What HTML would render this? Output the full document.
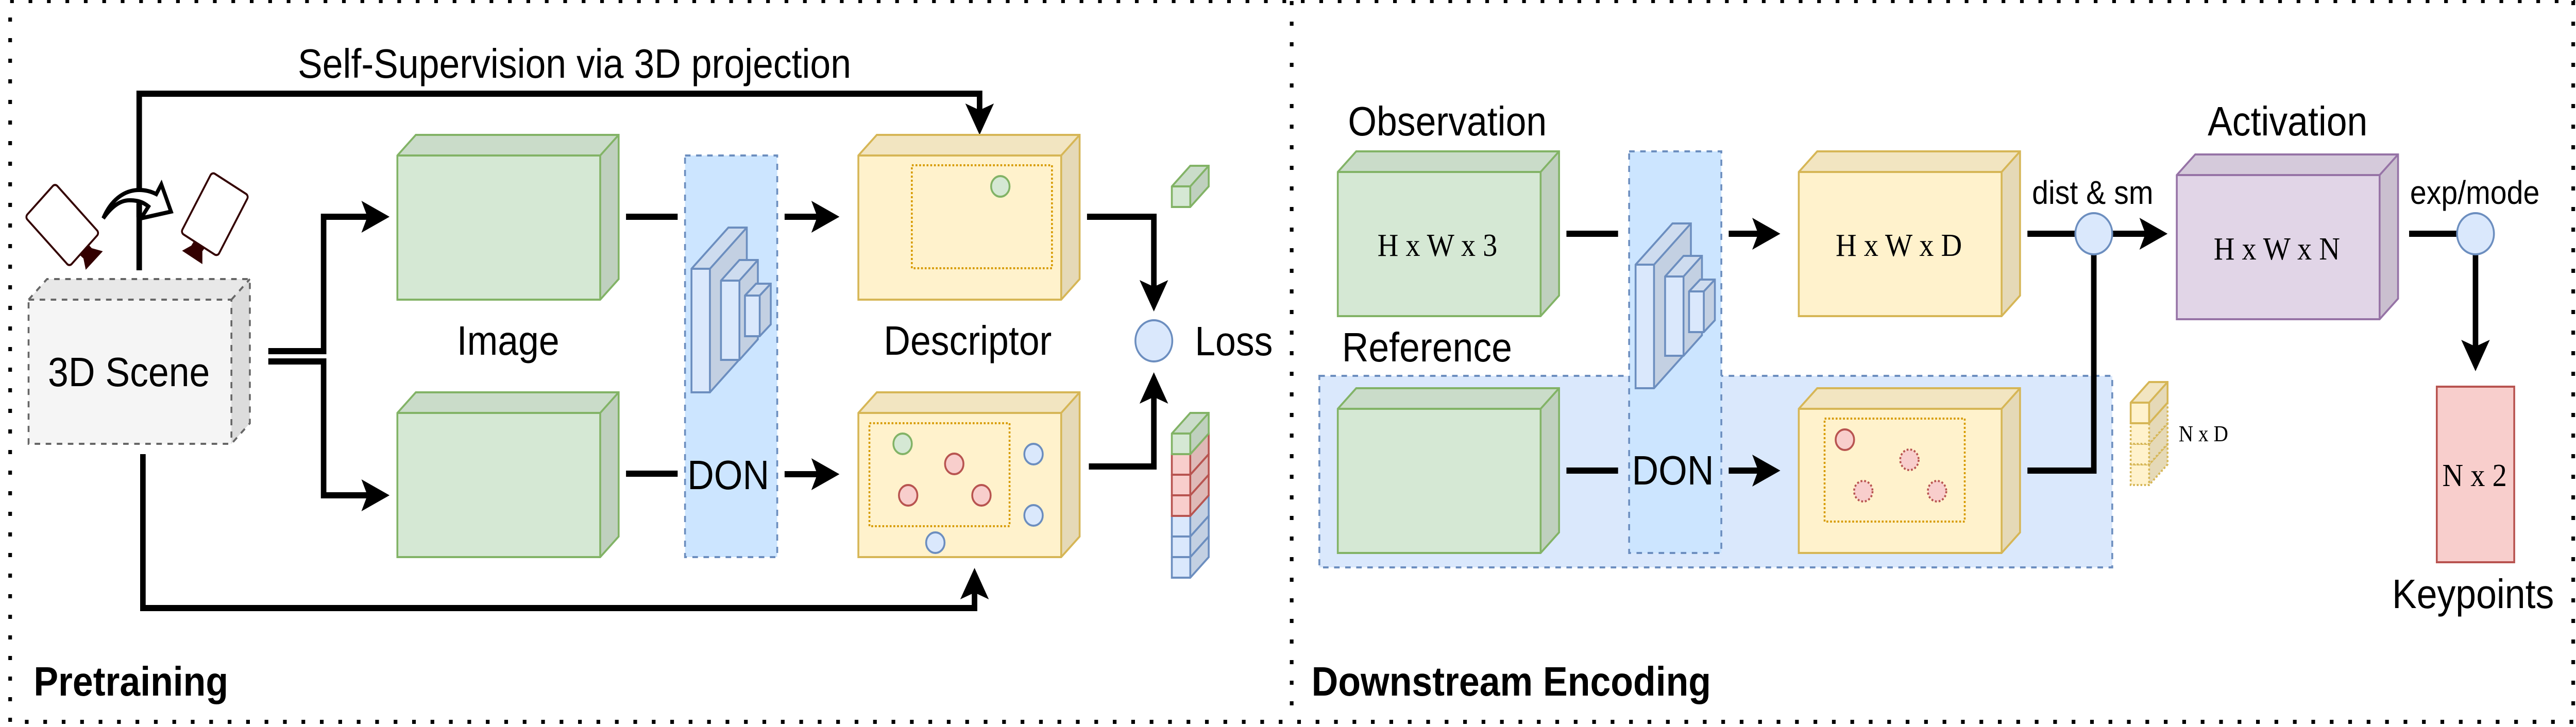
<!DOCTYPE html>
<html>
<head>
<meta charset="utf-8">
<title>Pretraining and Downstream Encoding</title>
<style>
html,body{margin:0;padding:0;background:#fff;width:100%;height:100%;overflow:hidden}
svg{display:block;width:100vw;height:100vh}
text{font-family:"Liberation Sans",Arial,sans-serif;font-size:80px;fill:#000}
.s{font-family:"Liberation Serif","Times New Roman",serif;font-size:63px}
.b{font-weight:bold}
.l{fill:none;stroke:#000;stroke-width:12;stroke-linejoin:miter}
.g{fill:#d5e8d4;stroke:#82b366;stroke-width:4}
.y{fill:#fff2cc;stroke:#d6b656;stroke-width:4}
.r{fill:#f8cecc;stroke:#b85450;stroke-width:4}
.u{fill:#dae8fc;stroke:#6c8ebf;stroke-width:4}
.p{fill:#e1d5e7;stroke:#9673a6;stroke-width:4}
.o{fill:none;stroke:#d79b00;stroke-width:4;stroke-dasharray:4 4}
</style>
</head>
<body>
<svg xmlns="http://www.w3.org/2000/svg" viewBox="0 0 5588 1412" preserveAspectRatio="none">
<defs>
<g id="big">
<path d="M0 40L40 0H480V280L440 320H0Z" stroke="none"/>
<path d="M0 40L40 0H480L440 40Z" fill="#000" fill-opacity=".05" stroke="none"/>
<path d="M440 40L480 0V280L440 320Z" fill="#000" fill-opacity=".1" stroke="none"/>
<path d="M0 40L40 0H480V280L440 320H0ZM0 40H440V320M440 40L480 0" fill="none"/>
</g>
<g id="sm">
<path d="M0 40L40 0H80V40L40 80H0Z" stroke="none"/>
<path d="M0 40L40 0H80L40 40Z" fill="#000" fill-opacity=".05" stroke="none"/>
<path d="M40 40L80 0V40L40 80Z" fill="#000" fill-opacity=".1" stroke="none"/>
<path d="M0 40L40 0H80V40L40 80H0ZM0 40H40V80M40 40L80 0" fill="none"/>
</g>
<g id="cnn">
<path d="M1500 522L1580 442H1620V682L1540 762H1500Z" stroke="none"/>
<path d="M1500 522L1580 442H1620L1540 522Z" fill="#000" fill-opacity=".05" stroke="none"/>
<path d="M1540 522L1620 442V682L1540 762Z" fill="#000" fill-opacity=".1" stroke="none"/>
<path d="M1500 522L1580 442H1620V682L1540 762H1500ZM1500 522H1540V762M1540 522L1620 442" fill="none"/>
<path d="M1564 545L1604 505H1644V659L1604 699H1564Z" stroke="none"/>
<path d="M1564 545L1604 505H1644L1604 545Z" fill="#000" fill-opacity=".05" stroke="none"/>
<path d="M1604 545L1644 505V659L1604 699Z" fill="#000" fill-opacity=".1" stroke="none"/>
<path d="M1564 545L1604 505H1644V659L1604 699H1564ZM1564 545H1604V699M1604 545L1644 505" fill="none"/>
<path d="M1616 574L1640 551H1672V630L1648 653H1616Z" stroke="none"/>
<path d="M1616 574L1640 551H1672L1648 574Z" fill="#000" fill-opacity=".05" stroke="none"/>
<path d="M1648 574L1672 551V630L1648 653Z" fill="#000" fill-opacity=".1" stroke="none"/>
<path d="M1616 574L1640 551H1672V630L1648 653H1616ZM1616 574H1648V653M1648 574L1672 551" fill="none"/>
</g>
</defs>

<!-- dotted frames -->
<g fill="none" stroke="#000" stroke-dasharray="8 32">
<path d="M22 3H5586" stroke-width="6"/>
<path d="M22 34V1402" stroke-width="8"/>
<path d="M54 1402H5582" stroke-width="8"/>
<path d="M2802 2V1402" stroke-width="8"/>
<path d="M5582 2V1402" stroke-width="8"/>
</g>

<!-- LEFT PANEL -->
<!-- cameras -->
<rect x="67" y="391" width="136" height="92" rx="7" transform="rotate(45 135 437)" fill="#fff" stroke="#330000" stroke-width="4"/>
<polygon points="193,476 199,482 223,488 186,524 181,502 174,496" fill="#330000"/>
<rect x="420" y="348" width="92" height="136" rx="7" transform="rotate(30 466 416)" fill="#fff" stroke="#330000" stroke-width="4"/>
<polygon points="421,468 415,477 395,487 439,513 439,488 444,482" fill="#330000"/>

<!-- self-supervision connector -->
<path class="l" d="M302 525V182H2125V215"/>
<polygon points="2125,262 2094,201 2125,214 2156,201"/>
<!-- curved arrow -->
<path d="M224 424C240 390 268 369 302 369C316 369 328 372 339 377L350 358L371 411L306 424L322 401C310 392 298 389 281 389C258 389 240 404 224 424Z" fill="#fff" stroke="#000" stroke-width="8" stroke-miterlimit="6"/>
<rect x="296" y="396" width="12" height="26" fill="#000"/>

<!-- 3D scene -->
<g fill="#f5f5f5" stroke="#666666" stroke-width="4" stroke-dasharray="12 12">
<use href="#big" x="62" y="542"/>
</g>
<text x="104" y="750">3D Scene</text>

<!-- bottom connector -->
<path class="l" d="M310 882V1181H2114V1150"/>
<polygon points="2114,1103 2083,1164 2114,1151 2145,1164"/>

<!-- split -->
<path class="l" d="M582 682H702V421H797"/>
<polygon points="845,421 784,390 797,421 784,452"/>
<path class="l" d="M582 702H702V962H797"/>
<polygon points="845,962 784,931 797,962 784,993"/>

<!-- green boxes -->
<g class="g">
<use href="#big" x="862" y="262"/>
<use href="#big" x="862" y="762"/>
</g>
<text x="991" y="689">Image</text>

<path class="l" d="M1358 421H1470M1358 920H1470"/>

<!-- DON -->
<rect x="1486" y="302" width="200" height="780" fill="#cce5ff" stroke="#6c8ebf" stroke-width="4" stroke-dasharray="12 12"/>
<g class="u"><use href="#cnn"/></g>
<text x="1491" y="950">DON</text>

<path class="l" d="M1702 421H1775M1702 921H1775"/>
<polygon points="1821,421 1760,390 1773,421 1760,452"/>
<polygon points="1821,921 1760,890 1773,921 1760,952"/>

<!-- descriptor boxes -->
<g class="y">
<use href="#big" x="1862" y="262"/>
<use href="#big" x="1862" y="762"/>
</g>
<rect class="o" x="1978" y="321" width="304" height="200"/>
<rect class="o" x="1886" y="822" width="304" height="200"/>
<circle class="g" cx="2170" cy="362" r="20"/>
<circle class="g" cx="1958" cy="862" r="20"/>
<circle class="r" cx="2070" cy="901" r="20"/>
<circle class="r" cx="1970" cy="962" r="20"/>
<circle class="r" cx="2129" cy="962" r="20"/>
<circle class="u" cx="2242" cy="882" r="20"/>
<circle class="u" cx="2242" cy="1001" r="20"/>
<circle class="u" cx="2029" cy="1054" r="20"/>
<text x="1917" y="689">Descriptor</text>

<!-- loss -->
<path class="l" d="M2358 421H2503V560"/>
<polygon points="2503,605 2472,544 2503,557 2534,544"/>
<path class="l" d="M2362 906H2503V770"/>
<polygon points="2503,723 2472,784 2503,771 2534,784"/>
<circle class="u" cx="2503" cy="662" r="40"/>
<text x="2592" y="690">Loss</text>

<!-- small cubes -->
<g class="g"><use href="#sm" x="2542" y="322"/></g>
<g class="u">
<use href="#sm" x="2542" y="1042"/>
<use href="#sm" x="2542" y="1002"/>
<use href="#sm" x="2542" y="962"/>
</g>
<g class="r">
<use href="#sm" x="2542" y="922"/>
<use href="#sm" x="2542" y="882"/>
<use href="#sm" x="2542" y="842"/>
</g>
<g class="g"><use href="#sm" x="2542" y="802"/></g>

<text x="646" y="151">Self-Supervision via 3D projection</text>
<text x="73" y="1351" class="b">Pretraining</text>

<!-- RIGHT PANEL -->
<rect x="2862" y="730" width="1720" height="372" fill="#dae8fc" stroke="#6c8ebf" stroke-width="4" stroke-dasharray="12 12"/>

<g class="g">
<use href="#big" x="2902" y="294"/>
<use href="#big" x="2902" y="754"/>
</g>
<text class="s" x="2988" y="497">H x W x 3</text>
<text x="2924" y="263">Observation</text>
<text x="2911" y="702">Reference</text>

<path class="l" d="M3398 454H3510M3398 914H3510"/>

<rect x="3534" y="294" width="200" height="780" fill="#cce5ff" stroke="#6c8ebf" stroke-width="4" stroke-dasharray="12 12"/>
<g class="u"><use href="#cnn" x="2048" y="-8"/></g>
<text x="3540" y="941">DON</text>

<path class="l" d="M3750 454H3815M3750 914H3815"/>
<polygon points="3862,454 3801,423 3814,454 3801,485"/>
<polygon points="3862,914 3801,883 3814,914 3801,945"/>

<g class="y">
<use href="#big" x="3902" y="294"/>
<use href="#big" x="3902" y="754"/>
</g>
<text class="s" x="3982" y="497">H x W x D</text>
<rect class="o" x="3958" y="813" width="304" height="200"/>
<circle class="r" cx="4002" cy="854" r="20"/>
<g class="r" stroke-dasharray="4 4">
<circle cx="4142" cy="893" r="20"/>
<circle cx="4042" cy="954" r="20"/>
<circle cx="4202" cy="954" r="20"/>
</g>

<path class="l" d="M4398 454H4656"/>
<polygon points="4702,454 4641,423 4654,454 4641,485"/>
<path class="l" d="M4398 914H4542V454"/>
<circle class="u" cx="4542" cy="454" r="40"/>
<text x="4408" y="396" style="font-size:64px">dist &amp; sm</text>

<g class="p"><use href="#big" x="4722" y="300"/></g>
<text class="s" x="4802" y="504">H x W x N</text>
<text x="4789" y="263">Activation</text>

<path class="l" d="M5226 454H5370V675"/>
<polygon points="5370,721 5339,660 5370,673 5401,660"/>
<circle class="u" cx="5370" cy="454" r="40"/>
<text x="5228" y="396" style="font-size:64px">exp/mode</text>

<rect class="r" x="5286" y="751" width="168" height="341"/>
<text class="s" x="5298" y="944">N x 2</text>
<text x="5189" y="1181">Keypoints</text>

<!-- N x D stack -->
<g class="y" stroke-dasharray="4 4">
<use href="#sm" x="4622" y="862"/>
<use href="#sm" x="4622" y="822"/>
<use href="#sm" x="4622" y="782"/>
</g>
<g class="y"><use href="#sm" x="4622" y="742"/></g>
<text class="s" x="4726" y="857" style="font-size:44px">N x D</text>

<text x="2845" y="1351" class="b">Downstream Encoding</text>
</svg>
</body>
</html>
